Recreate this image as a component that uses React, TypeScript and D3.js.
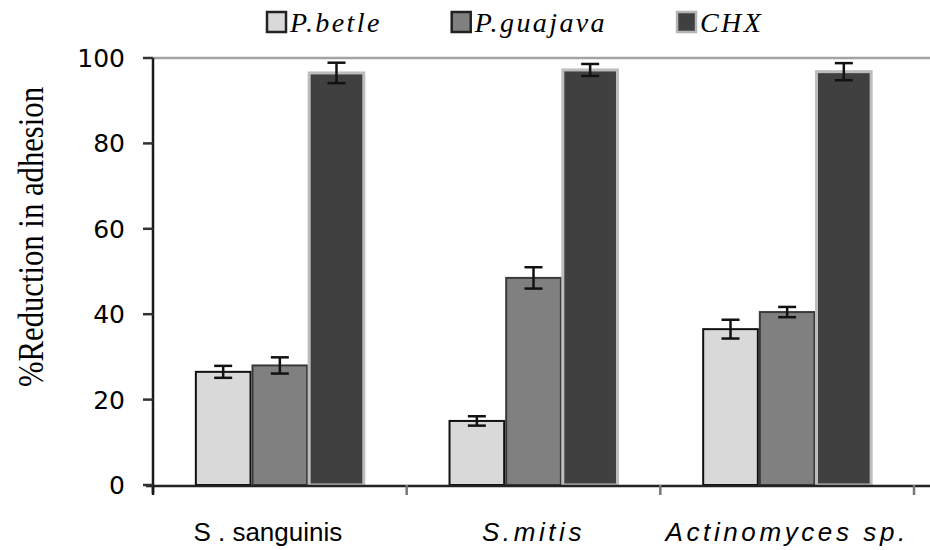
import { useEffect, useRef } from 'react';
import * as d3 from 'd3';

const categories = ['S . sanguinis', 'S.mitis', 'Actinomyces sp.'];
const seriesNames = ['P.betle', 'P.guajava', 'CHX'];
const betle = [26.5, 15, 36.5];
const betleErr = [1.4, 1.1, 2.2];
const guajava = [28, 48.5, 40.5];
const guajavaErr = [1.9, 2.5, 1.2];
const chx = [96.5, 97.2, 96.8];
const chxErr = [2.4, 1.4, 2];
const yTicks = [0, 20, 40, 60, 80, 100];

const values = [betle, guajava, chx];
const errors = [betleErr, guajavaErr, chxErr];

const fills = ['#d9d9d9', '#808080', '#404040'];
const strokes = ['#111111', '#3a3a3a', '#bdbdbd'];
const labelItalic = [false, true, true];

export default function App() {
  const svgRef = useRef<SVGSVGElement>(null);

  useEffect(() => {
    if (!svgRef.current) return;
    document.body.style.margin = '0';

    const width = 930;
    const height = 550;
    const svg = d3.select(svgRef.current);
    svg.selectAll('*').remove();
    svg.attr('width', width).attr('height', height);

    const x0 = d3.scaleBand<string>()
      .domain(categories)
      .range([153, 914])
      .paddingInner(0.33)
      .paddingOuter(0.165);
    const x1 = d3.scaleBand<string>()
      .domain(seriesNames)
      .range([0, x0.bandwidth()]);
    const y = d3.scaleLinear().domain([0, 100]).range([485, 58]);

    // top line at 100
    svg.append('line')
      .attr('x1', 153).attr('x2', width)
      .attr('y1', y(100)).attr('y2', y(100))
      .attr('stroke', '#a3a3a3').attr('stroke-width', 2.5);

    // bars + error bars
    seriesNames.forEach((s, si) => {
      const g = svg.append('g');
      categories.forEach((c, ci) => {
        const v = values[si][ci];
        const e = errors[si][ci];
        const bx = (x0(c) ?? 0) + (x1(s) ?? 0);
        const bw = x1.bandwidth();
        g.append('rect')
          .attr('x', bx + 1)
          .attr('y', y(v))
          .attr('width', bw - 2)
          .attr('height', y(0) - y(v))
          .attr('fill', fills[si])
          .attr('stroke', strokes[si])
          .attr('stroke-width', si === 2 ? 3 : 2);
        const cx = bx + bw / 2;
        const eg = svg.append('g').attr('stroke', '#111').attr('stroke-width', 2.5);
        eg.append('line').attr('x1', cx).attr('x2', cx).attr('y1', y(v + e)).attr('y2', y(v - e));
        eg.append('line').attr('x1', cx - 9).attr('x2', cx + 9).attr('y1', y(v + e)).attr('y2', y(v + e));
        eg.append('line').attr('x1', cx - 9).attr('x2', cx + 9).attr('y1', y(v - e)).attr('y2', y(v - e));
      });
    });

    // x axis
    svg.append('line')
      .attr('x1', 146).attr('x2', width)
      .attr('y1', y(0) + 1).attr('y2', y(0) + 1)
      .attr('stroke', '#222').attr('stroke-width', 2.5);
    const boundaries = categories.map(c => x0(c)! - x0.step() * x0.paddingInner() / 2);
    boundaries.push(boundaries[boundaries.length - 1] + x0.step());
    boundaries[0] = 153;
    svg.append('g').selectAll('line').data(boundaries).join('line')
      .attr('x1', d => d).attr('x2', d => d)
      .attr('y1', y(0)).attr('y2', y(0) + 10)
      .attr('stroke', (d, i) => i === 0 ? '#111' : '#777')
      .attr('stroke-width', 2.5);

    svg.append('g').selectAll('text').data(categories).join('text')
      .attr('x', d => x0(d)! + x0.bandwidth() / 2 + (d === categories[0] ? -12 : 0))
      .attr('y', 541)
      .attr('text-anchor', 'middle')
      .attr('font-family', 'Liberation Sans, Arial, sans-serif')
      .attr('font-size', 26)
      .attr('font-style', (d, i) => labelItalic[i] ? 'italic' : 'normal')
      .attr('letter-spacing', (d, i) => labelItalic[i] ? 3.6 : 0)
      .attr('fill', '#000')
      .text(d => d);

    // y axis
    svg.append('line')
      .attr('x1', 153).attr('x2', 153)
      .attr('y1', y(100)).attr('y2', y(0) + 8)
      .attr('stroke', '#1a1a1a').attr('stroke-width', 2.5);
    const yAxis = svg.append('g');
    yAxis.selectAll('line').data(yTicks).join('line')
      .attr('x1', 143).attr('x2', 153)
      .attr('y1', d => y(d)).attr('y2', d => y(d))
      .attr('stroke', '#333').attr('stroke-width', 2.5);
    yAxis.selectAll('text').data(yTicks).join('text')
      .attr('x', 125)
      .attr('y', d => y(d))
      .attr('dy', '0.36em')
      .attr('text-anchor', 'end')
      .attr('font-family', 'DejaVu Sans, sans-serif')
      .attr('font-size', 25)
      .attr('fill', '#000')
      .text(d => String(d));

    svg.append('text')
      .attr('transform', 'translate(43, 237) rotate(-90)')
      .attr('text-anchor', 'middle')
      .attr('font-family', 'Liberation Serif, Times New Roman, serif')
      .attr('font-size', 36)
      .attr('textLength', 300)
      .attr('lengthAdjust', 'spacingAndGlyphs')
      .attr('fill', '#000')
      .text('%Reduction in adhesion');

    // legend
    const legend = svg.append('g');
    let lx = 267;
    seriesNames.forEach((s, si) => {
      legend.append('rect')
        .attr('x', lx).attr('y', 12)
        .attr('width', 19).attr('height', 20)
        .attr('fill', fills[si])
        .attr('stroke', strokes[si] === '#bdbdbd' ? '#b5b5b5' : '#222')
        .attr('stroke-width', 2.5);
      const t = legend.append('text')
        .attr('x', lx + 23).attr('y', 32)
        .attr('font-family', 'Liberation Serif, Times New Roman, serif')
        .attr('font-style', 'italic')
        .attr('font-size', 28)
        .attr('letter-spacing', 2.4)
        .attr('fill', '#000')
        .text(s);
      const w = (t.node() as SVGTextElement).getComputedTextLength();
      lx += 23 + w + 70;
    });
  }, []);

  return <svg ref={svgRef} style={{ display: 'block' }}></svg>;
}
